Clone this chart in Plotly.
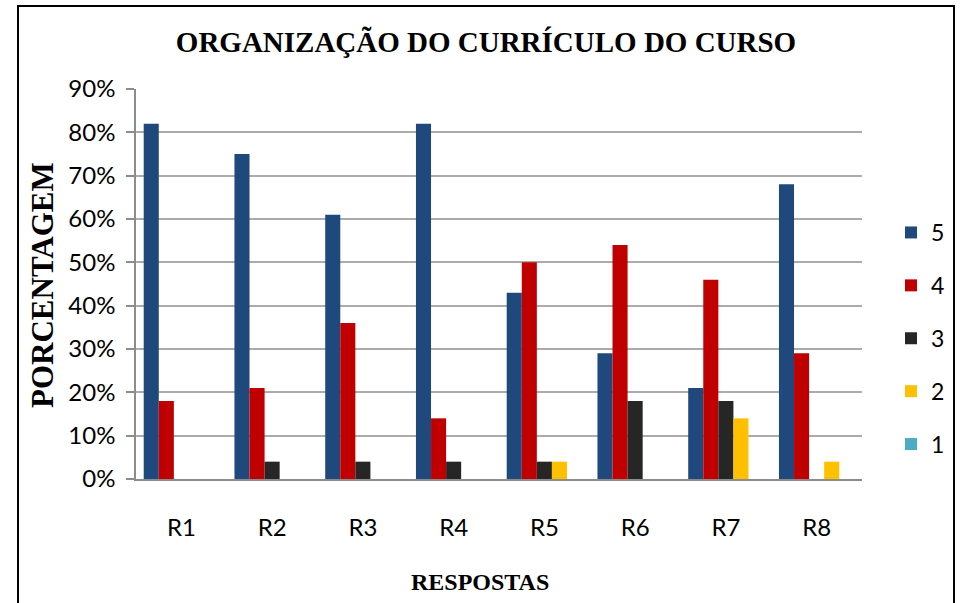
import plotly.graph_objects as go

categories = ["R1", "R2", "R3", "R4", "R5", "R6", "R7", "R8"]
s5 = [0.82, 0.75, 0.61, 0.82, 0.43, 0.29, 0.21, 0.68]
s4 = [0.18, 0.21, 0.36, 0.14, 0.50, 0.54, 0.46, 0.29]
s3 = [0.00, 0.04, 0.04, 0.04, 0.04, 0.18, 0.18, 0.00]
s2 = [0.00, 0.00, 0.00, 0.00, 0.04, 0.00, 0.14, 0.04]
s1 = [0.00, 0.00, 0.00, 0.00, 0.00, 0.00, 0.00, 0.00]
series_names = ["5", "4", "3", "2", "1"]
series_values = [s5, s4, s3, s2, s1]
series_colors = ["#1F497D", "#C00000", "#262626", "#FFC000", "#4BACC6"]

title_text = "ORGANIZAÇÃO DO CURRÍCULO DO CURSO"
x_title = "RESPOSTAS"
y_title = "PORCENTAGEM"

W, H = 961, 603
L, R, T, B = 136, 99, 89, 124
pw, ph = W - L - R, H - T - B

def px_x(p):
    return (p - L) / pw

def px_y(p):
    return (H - B - p) / ph

fig = go.Figure()
for name, vals, col in zip(series_names, series_values, series_colors):
    fig.add_trace(go.Bar(
        x=categories, y=vals, name=name, marker_color=col,
        marker_line_width=0, legendgroup=name,
    ))

fig.update_layout(
    width=W, height=H,
    margin=dict(l=L, r=R, t=T, b=B, autoexpand=False),
    paper_bgcolor="white", plot_bgcolor="white",
    barmode="group", bargap=0.17, bargroupgap=0,
    title=dict(text=title_text, x=486 / W, xanchor="center",
               y=1 - 42 / H, yanchor="middle",
               font=dict(family="Liberation Serif", size=29, color="black", weight="bold")),
    legend=dict(x=px_x(891), xanchor="left", y=px_y(211), yanchor="top",
                font=dict(family="Lato", size=23, color="black"),
                tracegroupgap=20, traceorder="grouped", bgcolor="rgba(0,0,0,0)"),
    showlegend=True,
)

fig.update_yaxes(
    range=[0, 0.9], dtick=0.1, tickformat=".0%",
    showgrid=True, gridcolor="#ABABAB", gridwidth=1.5,
    showline=True, linecolor="#8C8C8C", linewidth=1.5,
    ticks="outside", ticklen=8, tickcolor="#8C8C8C", tickwidth=1.5,
    ticklabelstandoff=6, automargin=False,
    tickfont=dict(family="Lato", size=24, color="black"),
    zeroline=False,
)
fig.update_xaxes(
    showline=True, linecolor="#8C8C8C", linewidth=1.5,
    ticks="", ticklabelstandoff=26, automargin=False,
    tickfont=dict(family="Lato", size=24, color="black"),
)

fig.add_annotation(text=x_title, xref="paper", yref="paper",
                   x=px_x(480), y=px_y(582), xanchor="center", yanchor="middle",
                   showarrow=False,
                   font=dict(family="Liberation Serif", size=24, color="black", weight="bold"))
fig.add_annotation(text=y_title, xref="paper", yref="paper",
                   x=px_x(42), y=px_y(285), xanchor="center", yanchor="middle",
                   textangle=-90, showarrow=False,
                   font=dict(family="Liberation Serif", size=31, color="black", weight="bold"))

fig.add_shape(type="rect", xref="paper", yref="paper",
              x0=px_x(18), x1=px_x(954), y0=px_y(6), y1=px_y(700),
              line=dict(color="black", width=2), fillcolor="rgba(0,0,0,0)", layer="below")

fig.write_html("out.html", config={"displayModeBar": False},
               post_script="document.body.style.margin='0';document.body.style.overflow='hidden';")
